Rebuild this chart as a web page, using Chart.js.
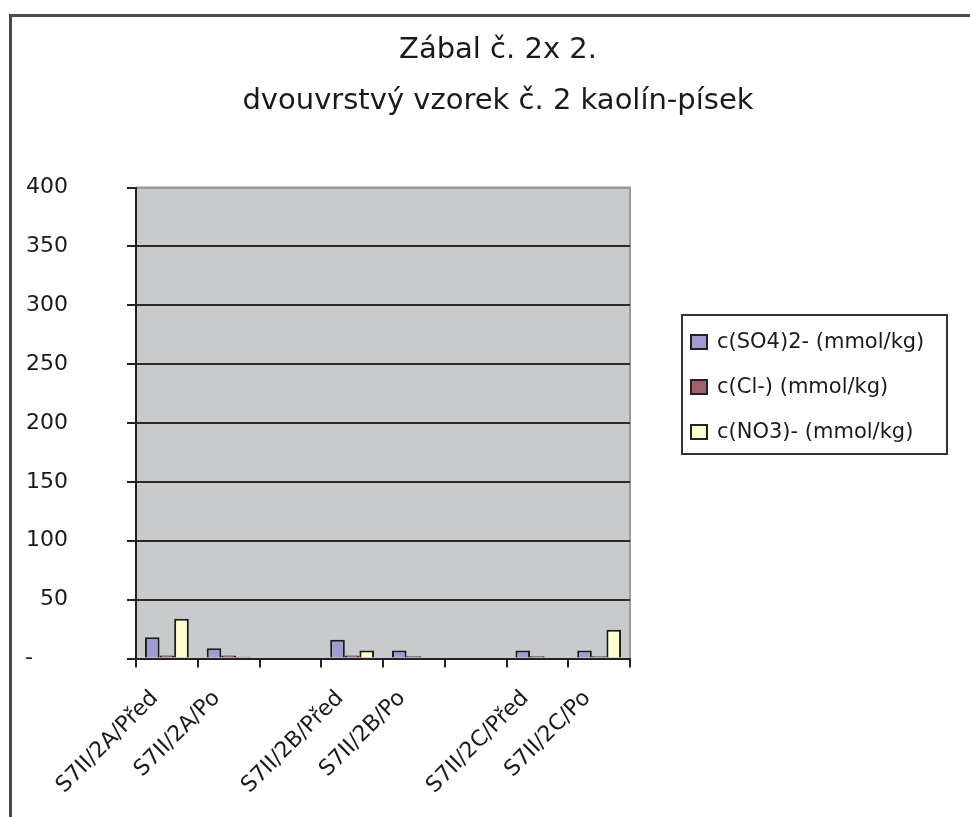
<!DOCTYPE html>
<html>
<head>
<meta charset="utf-8">
<script src="https://cdn.jsdelivr.net/npm/chart.js@4/dist/chart.umd.min.js"></script>
<style>
  html, body { margin: 0; padding: 0; background: #fff; overflow: hidden; }
  #wrap { position: relative; width: 970px; height: 817px; }
  #frame { position: absolute; left: 9px; top: 14px; width: 1000px; height: 900px;
           border: 3px solid #4a4a4a; box-sizing: border-box; }
  canvas { position: absolute; left: 0; top: 0; }
</style>
</head>
<body>
<div id="wrap">
  <div id="frame"></div>
  <canvas id="myChart" width="970" height="817"></canvas>
</div>
<script>
const categories = ['S7II/2A/Před', 'S7II/2A/Po', '', 'S7II/2B/Před', 'S7II/2B/Po', '', 'S7II/2C/Před', 'S7II/2C/Po'];
const so4 = [18, 8.7, null, 16, 6.8, null, 6.8, 6.8];
const cl = [2.5, 2.5, null, 2.5, 2, null, 2, 2];
const no3 = [33.7, 1.5, null, 6.8, 0, null, 0, 24.4];
const seriesNames = ['c(SO4)2- (mmol/kg)', 'c(Cl-) (mmol/kg)', 'c(NO3)- (mmol/kg)'];
const seriesColors = ['#a09cd0', '#a3606c', '#ffffd0'];
const yTicks = [0, 50, 100, 150, 200, 250, 300, 350, 400];

const FONT = 'DejaVu Sans';

// grey plot area with a thin grey top/right edge, like the Excel original
const plotArea = {
  id: 'plotArea',
  beforeDraw(chart) {
    const a = chart.chartArea, c = chart.ctx;
    c.save();
    c.fillStyle = '#c9cacc';
    c.fillRect(a.left, a.top, a.right - a.left, a.bottom - a.top);
    c.strokeStyle = '#9a9a9a';
    c.lineWidth = 2;
    c.beginPath();
    c.moveTo(a.left, a.top);
    c.lineTo(a.right, a.top);
    c.lineTo(a.right, a.bottom);
    c.stroke();
    c.restore();
  }
};

// boxed legend on the right
const boxLegend = {
  id: 'boxLegend',
  afterDraw(chart) {
    const c = chart.ctx;
    c.save();
    c.strokeStyle = '#333';
    c.lineWidth = 2;
    c.strokeRect(682, 315, 265, 139);
    c.font = '21px "' + FONT + '"';
    c.textBaseline = 'middle';
    chart.data.datasets.forEach(function(ds, i) {
      const y = 342 + i * 45;
      c.fillStyle = ds.backgroundColor;
      c.fillRect(691, y - 7, 16, 14);
      c.strokeStyle = '#222';
      c.lineWidth = 2;
      c.strokeRect(691, y - 7, 16, 14);
      c.fillStyle = '#1a1a1a';
      c.fillText(ds.label, 717, y + 1);
    });
    c.restore();
  }
};

document.addEventListener('DOMContentLoaded', function() {
  const ctx = document.getElementById('myChart');

  new Chart(ctx, {
    type: 'bar',
    data: {
      labels: categories,
      datasets: [
        { label: seriesNames[0], data: so4, backgroundColor: seriesColors[0] },
        { label: seriesNames[1], data: cl, backgroundColor: seriesColors[1] },
        { label: seriesNames[2], data: no3, backgroundColor: seriesColors[2] }
      ]
    },
    options: {
      responsive: false,
      animation: false,
      layout: { padding: { left: 26, right: 0, top: 0, bottom: 0 } },
      datasets: {
        bar: {
          categoryPercentage: 0.71,
          barPercentage: 1.0,
          borderColor: '#1a1a1a',
          borderWidth: 2
        }
      },
      plugins: {
        legend: { display: false },
        tooltip: { enabled: false },
        title: {
          display: true,
          text: ['Zábal č. 2x 2.', 'dvouvrstvý vzorek č. 2 kaolín-písek'],
          color: '#1a1a1a',
          font: { family: FONT, size: 29, weight: 'normal', lineHeight: 1.75 },
          padding: { top: 25, bottom: 61 }
        }
      },
      scales: {
        x: {
          grid: { offset: true, drawOnChartArea: false, drawTicks: true, tickLength: 9, tickColor: '#222', lineWidth: 2 },
          border: { color: '#222', width: 2 },
          afterFit: function(s) { s.paddingLeft = 0; s.paddingRight = 0; },
          ticks: {
            autoSkip: false,
            minRotation: 45,
            maxRotation: 45,
            padding: 18,
            labelOffset: -12,
            color: '#1a1a1a',
            font: { family: FONT, size: 22 }
          }
        },
        y: {
          min: 0,
          max: 400,
          afterBuildTicks: function(s) { s.ticks = yTicks.map(function(v) { return { value: v }; }); },
          afterFit: function(s) { s.width = 110; },
          grid: {
            color: function(c) { return c.tick && c.tick.value === 400 ? '#9a9a9a' : '#2a2a2a'; },
            lineWidth: 2,
            tickLength: 9,
            tickColor: '#222'
          },
          border: { color: '#222', width: 2 },
          ticks: {
            padding: 59,
            color: '#1a1a1a',
            font: { family: FONT, size: 22 },
            callback: function(v) { return v === 0 ? '-     ' : v; }
          }
        },
        pad: {
          type: 'linear',
          position: 'right',
          grid: { display: false },
          border: { display: false },
          ticks: { display: false },
          afterFit: function(s) { s.width = 340; }
        }
      }
    },
    plugins: [plotArea, boxLegend]
  });
});
</script>
</body>
</html>
